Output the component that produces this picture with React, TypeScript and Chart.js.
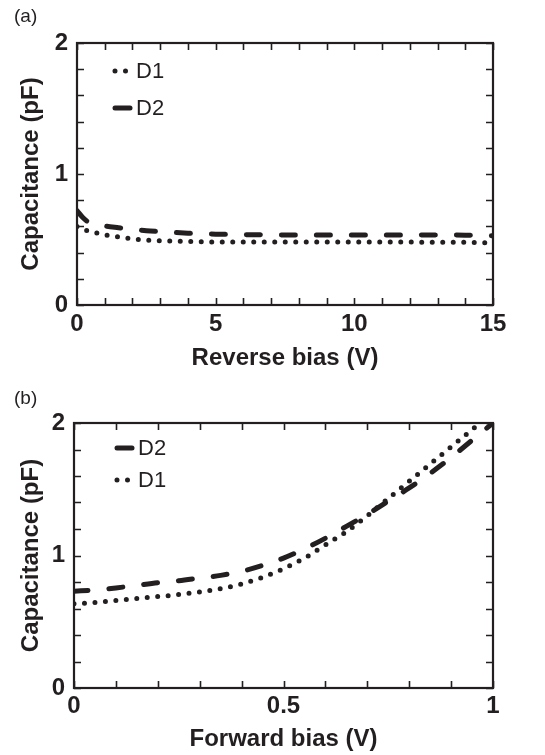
import React, { useEffect, useRef } from "react";
import { Chart, registerables } from "chart.js";
Chart.register(...registerables);

// ---- Data ----
// (a) Reverse bias
const revBias = [0, 0.2, 0.4, 0.7, 1, 1.5, 2, 2.5, 3, 4, 5, 6, 8, 10, 12, 14, 15];
const revD1 = [0.6, 0.58, 0.565, 0.55, 0.535, 0.52, 0.505, 0.495, 0.49, 0.485, 0.48, 0.48, 0.48, 0.48, 0.48, 0.478, 0.475];
const revD2 = [0.72, 0.67, 0.635, 0.615, 0.603, 0.59, 0.578, 0.567, 0.56, 0.548, 0.541, 0.537, 0.535, 0.535, 0.535, 0.533, 0.528];
// (b) Forward bias
const fwdBias = [0, 0.05, 0.1, 0.15, 0.2, 0.25, 0.3, 0.35, 0.4, 0.45, 0.5, 0.55, 0.6, 0.65, 0.7, 0.75, 0.8, 0.85, 0.9, 0.95, 1.0];
const fwdD1 = [0.635, 0.645, 0.66, 0.675, 0.69, 0.705, 0.725, 0.75, 0.785, 0.835, 0.9, 0.98, 1.08, 1.18, 1.3, 1.43, 1.56, 1.69, 1.82, 1.95, 2.08];
const fwdD2 = [0.73, 0.74, 0.755, 0.775, 0.795, 0.81, 0.83, 0.85, 0.88, 0.925, 0.98, 1.05, 1.13, 1.22, 1.31, 1.41, 1.51, 1.62, 1.74, 1.87, 2.0];

// ---- Axis tick specs ----
const yRange = [0, 2];
const yMajorStep = 1;
const yMinorStep = 0.2;
const revRange = [0, 15];
const revMajorStep = 5;
const revMinorStep = 1;
const fwdRange = [0, 1];
const fwdMajorStep = 0.5;
const fwdMinorStep = 0.1;

const yTitle = "Capacitance (pF)";
const revTitle = "Reverse bias (V)";
const fwdTitle = "Forward bias (V)";

const INK = "#231f20";
const FONT = "'Liberation Sans', Arial, Helvetica, sans-serif";

const dotStyle = { borderWidth: 5, borderDash: [0, 10.5], borderCapStyle: "round" as const };
const dashStyle = { borderWidth: 5, borderDash: [14, 21], borderCapStyle: "round" as const };

type PanelCfg = {
  W: number;
  H: number;
  area: { left: number; top: number; right: number; bottom: number };
  tag: string;
  tagPos: [number, number];
  xs: number[];
  series: { label: string; data: number[]; style: any }[];
  legendOrder: string[];
  legendX: number;
  legendY: number[];
  xRange: number[];
  xMajor: number;
  xMinor: number;
  xTitle: string;
  xTickPad: number;
  xTitlePad: number;
};

const fmt = (v: number) => String(Math.round(v * 1000) / 1000);

function makeChart(canvas: HTMLCanvasElement, cfg: PanelCfg) {
  const { W, H, area } = cfg;
  const datasets = cfg.series.map((s) => ({
    label: s.label,
    data: cfg.xs.map((x, i) => ({ x, y: s.data[i] })),
    borderColor: INK,
    backgroundColor: INK,
    pointRadius: 0,
    fill: false,
    cubicInterpolationMode: "monotone" as const,
    ...s.style,
  }));

  const decor = {
    id: "decor",
    afterDatasetsDraw(chart: any) {
      const { ctx, chartArea: a, scales } = chart;
      const xs = scales.x;
      const ys = scales.y;
      const TL = 7;
      ctx.save();
      ctx.strokeStyle = INK;
      ctx.lineWidth = 1.6;
      ctx.setLineDash([]);
      const nx = Math.round((cfg.xRange[1] - cfg.xRange[0]) / cfg.xMinor);
      for (let i = 0; i <= nx; i++) {
        const px = Math.round(xs.getPixelForValue(cfg.xRange[0] + i * cfg.xMinor)) + 0.5;
        ctx.beginPath();
        ctx.moveTo(px, a.bottom);
        ctx.lineTo(px, a.bottom - TL);
        ctx.moveTo(px, a.top);
        ctx.lineTo(px, a.top + TL);
        ctx.stroke();
      }
      const ny = Math.round((yRange[1] - yRange[0]) / yMinorStep);
      for (let i = 0; i <= ny; i++) {
        const py = Math.round(ys.getPixelForValue(yRange[0] + i * yMinorStep)) + 0.5;
        ctx.beginPath();
        ctx.moveTo(a.left, py);
        ctx.lineTo(a.left + TL, py);
        ctx.moveTo(a.right, py);
        ctx.lineTo(a.right - TL, py);
        ctx.stroke();
      }
      ctx.lineWidth = 2.2;
      ctx.strokeRect(a.left, a.top, a.right - a.left, a.bottom - a.top);

      // legend
      cfg.legendOrder.forEach((lab, k) => {
        const ds = chart.data.datasets.find((d: any) => d.label === lab);
        const yy = cfg.legendY[k];
        const x0 = cfg.legendX;
        ctx.save();
        ctx.strokeStyle = INK;
        ctx.lineWidth = ds.borderWidth;
        ctx.lineCap = ds.borderCapStyle;
        ctx.beginPath();
        if (ds.borderDash[0] === 0) {
          ctx.setLineDash(ds.borderDash);
          ctx.moveTo(x0 + 3, yy);
          ctx.lineTo(x0 + 15, yy);
        } else {
          ctx.setLineDash([]);
          ctx.moveTo(x0 + 3, yy);
          ctx.lineTo(x0 + 18, yy);
        }
        ctx.stroke();
        ctx.restore();
        ctx.fillStyle = INK;
        ctx.font = `22px ${FONT}`;
        ctx.textBaseline = "middle";
        ctx.textAlign = "left";
        ctx.fillText(lab, x0 + 24, yy + 1);
      });

      ctx.fillStyle = INK;
      ctx.font = `19px ${FONT}`;
      ctx.textBaseline = "middle";
      ctx.textAlign = "left";
      ctx.fillText(cfg.tag, cfg.tagPos[0], cfg.tagPos[1]);
      ctx.restore();
    },
  };

  return new Chart(canvas, {
    type: "line",
    data: { datasets },
    options: {
      animation: false,
      responsive: false,
      devicePixelRatio: 1,
      layout: { padding: { left: 0, top: area.top, right: W - area.right, bottom: 0 } },
      plugins: { legend: { display: false }, tooltip: { enabled: false } },
      scales: {
        x: {
          type: "linear",
          min: cfg.xRange[0],
          max: cfg.xRange[1],
          afterFit: (s: any) => {
            s.height = H - area.bottom;
          },
          grid: { display: false, drawTicks: false },
          border: { display: false },
          ticks: {
            stepSize: cfg.xMajor,
            color: INK,
            padding: cfg.xTickPad,
            maxRotation: 0,
            callback: (v: any) => fmt(Number(v)),
            font: { family: FONT, size: 24, weight: "bold" },
          },
          title: {
            display: true,
            text: cfg.xTitle,
            color: INK,
            font: { family: FONT, size: 24, weight: "bold" },
            padding: { top: 0, bottom: cfg.xTitlePad },
          },
        },
        y: {
          type: "linear",
          min: yRange[0],
          max: yRange[1],
          afterFit: (s: any) => {
            s.width = area.left;
          },
          grid: { display: false, drawTicks: false },
          border: { display: false },
          ticks: {
            stepSize: yMajorStep,
            color: INK,
            padding: 9,
            callback: (v: any) => fmt(Number(v)),
            font: { family: FONT, size: 24, weight: "bold" },
          },
          title: {
            display: true,
            text: yTitle,
            color: INK,
            font: { family: FONT, size: 24, weight: "bold" },
            padding: { top: 17, bottom: 0 },
          },
        },
      },
    },
    plugins: [decor],
  } as any);
}

function Panel({ cfg, top }: { cfg: PanelCfg; top: number }) {
  const ref = useRef<HTMLCanvasElement | null>(null);
  useEffect(() => {
    if (!ref.current) return;
    const c = makeChart(ref.current, cfg);
    return () => c.destroy();
  }, []);
  return (
    <canvas
      ref={ref}
      width={cfg.W}
      height={cfg.H}
      style={{ position: "absolute", left: 0, top, width: cfg.W, height: cfg.H }}
    />
  );
}

const panelA: PanelCfg = {
  W: 545,
  H: 378,
  area: { left: 77, top: 43, right: 493, bottom: 305 },
  tag: "(a)",
  tagPos: [14, 17],
  xs: revBias,
  series: [
    { label: "D1", data: revD1, style: dotStyle },
    { label: "D2", data: revD2, style: dashStyle },
  ],
  legendOrder: ["D1", "D2"],
  legendX: 112,
  legendY: [71, 108],
  xRange: revRange,
  xMajor: revMajorStep,
  xMinor: revMinorStep,
  xTitle: revTitle,
  xTickPad: 5,
  xTitlePad: 5,
};

const panelB: PanelCfg = {
  W: 545,
  H: 377,
  area: { left: 74, top: 45, right: 493, bottom: 310 },
  tag: "(b)",
  tagPos: [14, 21],
  xs: fwdBias,
  series: [
    { label: "D1", data: fwdD1, style: dotStyle },
    { label: "D2", data: fwdD2, style: dashStyle },
  ],
  legendOrder: ["D2", "D1"],
  legendX: 114,
  legendY: [70, 102],
  xRange: fwdRange,
  xMajor: fwdMajorStep,
  xMinor: fwdMinorStep,
  xTitle: fwdTitle,
  xTickPad: 4,
  xTitlePad: 1,
};

export default function App() {
  return (
    <div style={{ position: "fixed", left: 0, top: 0, width: 545, height: 755, background: "#fff" }}>
      <Panel cfg={panelA} top={0} />
      <Panel cfg={panelB} top={378} />
    </div>
  );
}
